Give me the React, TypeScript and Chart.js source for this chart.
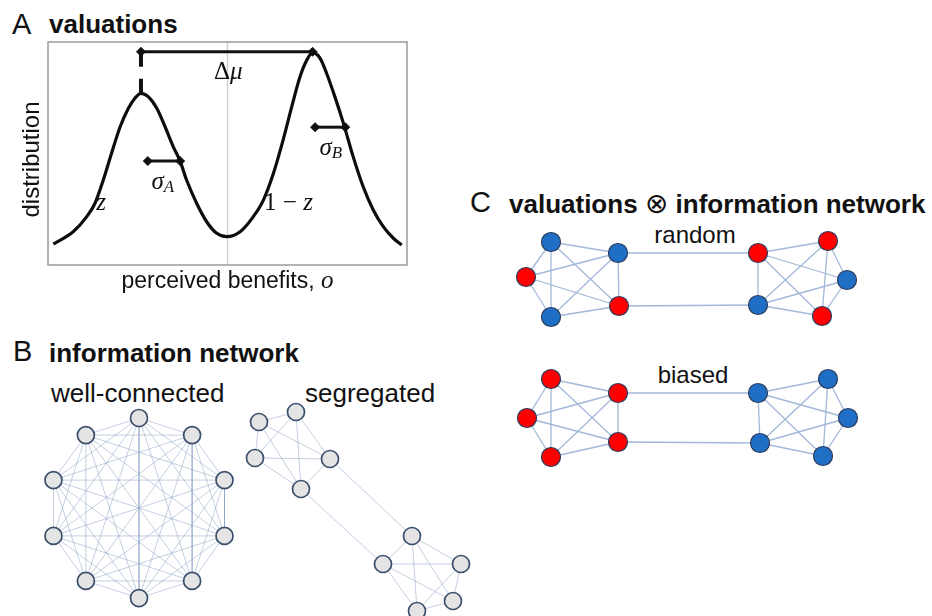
import React, { useEffect, useRef } from "react";
import { Chart, registerables } from "chart.js";

Chart.register(...registerables);

const SANS = '"Liberation Sans", Arial, Helvetica, sans-serif';
const SERIF = '"Liberation Serif", "Times New Roman", serif';

// ---------------- Panel A: valuations (bimodal distribution) ----------------
const benefitX = [-4.85, -4.3, -3.92, -3.69, -3.46, -3.23, -2.99, -2.76, -2.58, -2.41, -2.21, -1.97, -1.74, -1.51, -1.32, -1.14, -0.86, -0.58, -0.3, -0.02, 0.35, 0.72, 1.0, 1.28, 1.55, 1.79, 2.02, 2.21, 2.37, 2.58, 2.76, 2.99, 3.23, 3.5, 3.78, 4.06, 4.34, 4.62, 4.85];
const density = [0.094, 0.149, 0.217, 0.277, 0.381, 0.501, 0.62, 0.703, 0.748, 0.77, 0.755, 0.703, 0.62, 0.53, 0.466, 0.381, 0.277, 0.194, 0.142, 0.127, 0.149, 0.217, 0.291, 0.411, 0.561, 0.71, 0.844, 0.919, 0.952, 0.927, 0.86, 0.755, 0.635, 0.486, 0.351, 0.247, 0.172, 0.12, 0.09];
const peakMeans = [-2.41, 2.37]; // mu_A, mu_B
const deltaMuLevel = 0.956;
const dashBottom = 0.776;
const sigmaStart = [-2.22, 2.44];
const sigmaEnd = [-1.32, 3.28];
const sigmaLevel = [0.466, 0.618];

// ---------------- Panel B: information networks ----------------
const wellX = [0, 0.59, 0.95, 0.95, 0.59, 0, -0.59, -0.95, -0.95, -0.59];
const wellY = [1, 0.81, 0.31, -0.31, -0.81, -1, -0.81, -0.31, 0.31, 0.81];
const wellNodes = [0, 1, 2, 3, 4, 5, 6, 7, 8, 9];

const segX = [0.9, 4.6, 0.5, 8.0, 5.1, 16.2, 13.3, 21.1, 20.3, 16.7];
const segY = [19.8, 20.8, 16.2, 16.1, 13.1, 8.4, 5.6, 5.6, 1.9, 0.9];
const groupA = [0, 1, 2, 3, 4];
const groupB = [5, 6, 7, 8, 9];
const segBridges: [number, number][] = [[3, 5], [4, 6]];

// ---------------- Panel C: valuations x network ----------------
const randX = [5.1, 2.6, 5.1, 11.8, 11.9, 25.8, 32.8, 34.7, 25.8, 32.2];
const randY = [9.3, 5.8, 1.8, 8.2, 2.9, 8.2, 9.4, 5.5, 3.0, 1.9];
const randType = ["B", "A", "B", "B", "A", "A", "A", "B", "B", "A"];
const biasX = [5.1, 2.7, 5.1, 11.8, 11.8, 25.8, 32.8, 34.8, 26.0, 32.3];
const biasY = [9.3, 5.4, 1.5, 7.9, 3.0, 7.9, 9.3, 5.4, 2.9, 1.6];
const biasType = ["A", "A", "A", "A", "A", "B", "B", "B", "B", "B"];
const cBridges: [number, number][] = [[3, 5], [4, 8]];

const typeColor: Record<string, string> = { A: "#ff0000", B: "#1f6fc6" };

function allPairs(nodes: number[]): [number, number][] {
  const out: [number, number][] = [];
  for (let i = 0; i < nodes.length; i++)
    for (let j = i + 1; j < nodes.length; j++) out.push([nodes[i], nodes[j]]);
  return out;
}

type Run = { text: string; font: string; dy?: number };
function drawRuns(ctx: CanvasRenderingContext2D, runs: Run[], cx: number, cy: number) {
  const widths = runs.map((r) => {
    ctx.font = r.font;
    return ctx.measureText(r.text).width;
  });
  const total = widths.reduce((a, b) => a + b, 0);
  let x = cx - total / 2;
  runs.forEach((r, i) => {
    ctx.font = r.font;
    ctx.fillText(r.text, x, cy + (r.dy || 0));
    x += widths[i];
  });
}

const panelAPlugin = {
  id: "panelA",
  afterDatasetsDraw(chart: any) {
    const ctx: CanvasRenderingContext2D = chart.ctx;
    const { left, top, right, bottom } = chart.chartArea;
    const sx = chart.scales.x;
    const sy = chart.scales.y;
    ctx.save();
    ctx.strokeStyle = "#9a9a9a";
    ctx.lineWidth = 1.5;
    ctx.strokeRect(left, top, right - left, bottom - top);

    ctx.fillStyle = "#111";
    ctx.textBaseline = "middle";
    const it = `italic 25px ${SERIF}`;
    const rg = `25px ${SERIF}`;
    const sub = `italic 17px ${SERIF}`;
    const P = (x: number, y: number) => [sx.getPixelForValue(x), sy.getPixelForValue(y)];
    let [px, py] = P(0.02, 0.865);
    drawRuns(ctx, [{ text: "Δ", font: rg }, { text: "μ", font: it }], px, py);
    [px, py] = P(-1.8, 0.372);
    drawRuns(ctx, [{ text: "σ", font: it }, { text: "A", font: sub, dy: 5 }], px, py);
    [px, py] = P(2.88, 0.522);
    drawRuns(ctx, [{ text: "σ", font: it }, { text: "B", font: sub, dy: 5 }], px, py);
    [px, py] = P(-3.52, 0.278);
    drawRuns(ctx, [{ text: "z", font: it }], px, py);
    [px, py] = P(1.7, 0.278);
    drawRuns(ctx, [{ text: "1 − ", font: rg }, { text: "z", font: it }], px, py);

    // axis titles
    ctx.textBaseline = "alphabetic";
    const cx = (left + right) / 2;
    drawRuns(
      ctx,
      [
        { text: "perceived benefits, ", font: `23px ${SANS}` },
        { text: "o", font: `italic 25px ${SERIF}` },
      ],
      cx,
      bottom + 23
    );
    ctx.translate(left - 9, (top + bottom) / 2 + 6);
    ctx.rotate(-Math.PI / 2);
    ctx.textAlign = "center";
    ctx.font = `24px ${SANS}`;
    ctx.fillText("distribution", 0, 0);
    ctx.restore();
  },
};

function baseOptions(xMin: number, xMax: number, yMin: number, yMax: number, padding: any = 0) {
  return {
    animation: false as const,
    responsive: false,
    devicePixelRatio: 1,
    events: [] as any[],
    layout: { autoPadding: false, padding },
    plugins: { legend: { display: false }, tooltip: { enabled: false }, title: { display: false } },
    scales: {
      x: { type: "linear" as const, min: xMin, max: xMax, display: false },
      y: { type: "linear" as const, min: yMin, max: yMax, display: false },
    },
  };
}

function lineSet(data: { x: number; y: number }[], extra: any) {
  return {
    data,
    showLine: true,
    pointRadius: 0,
    borderColor: "#111",
    borderWidth: 3,
    clip: false,
    ...extra,
  };
}

function makePanelA() {
  const curve = benefitX.map((x, i) => ({ x, y: density[i] }));
  const diamond = { pointStyle: "rectRot", pointRadius: 4.5, pointBackgroundColor: "#111", pointBorderColor: "#111", pointBorderWidth: 1 };
  return {
    type: "scatter" as const,
    data: {
      datasets: [
        lineSet(curve, { cubicInterpolationMode: "monotone", order: 0, borderColor: "#0d0d0d", borderWidth: 3.2 }),
        lineSet([{ x: peakMeans[0], y: deltaMuLevel }, { x: peakMeans[1], y: deltaMuLevel }], { ...diamond, order: 1 }),
        lineSet([{ x: peakMeans[0], y: deltaMuLevel }, { x: peakMeans[0], y: dashBottom }], { borderDash: [15, 12], borderWidth: 4, order: 2 }),
        lineSet([{ x: sigmaStart[0], y: sigmaLevel[0] }, { x: sigmaEnd[0], y: sigmaLevel[0] }], { ...diamond, order: 1 }),
        lineSet([{ x: sigmaStart[1], y: sigmaLevel[1] }, { x: sigmaEnd[1], y: sigmaLevel[1] }], { ...diamond, order: 1 }),
        lineSet([{ x: 0, y: 0 }, { x: 0, y: 1 }], { borderColor: "#cfcfcf", borderWidth: 1.3, order: 9 }),
      ],
    },
    options: baseOptions(-5, 5, 0, 1, { left: 48, top: 2, right: 13, bottom: 35 }),
    plugins: [panelAPlugin],
  };
}

type NetSpec = {
  xs: number[];
  ys: number[];
  edges: [number, number][];
  colors: string[] | string;
  xRange: [number, number];
  yRange: [number, number];
  radius: number;
  nodeBorder: string;
  nodeBorderWidth: number;
  edgeColor: string;
  edgeWidth: number;
};

function makeNetwork(spec: NetSpec) {
  const pts = spec.xs.map((x, i) => ({ x, y: spec.ys[i] }));
  const edgeSets = spec.edges.map(([a, b]) => ({
    data: [{ ...pts[a] }, { ...pts[b] }],
    showLine: true,
    pointRadius: 0,
    borderColor: spec.edgeColor,
    borderWidth: spec.edgeWidth,
    order: 5,
    clip: false,
  }));
  return {
    type: "scatter" as const,
    data: {
      datasets: [
        {
          data: pts,
          showLine: false,
          pointRadius: spec.radius,
          pointBackgroundColor: spec.colors,
          pointBorderColor: spec.nodeBorder,
          pointBorderWidth: spec.nodeBorderWidth,
          order: 0,
          clip: false,
        },
        ...edgeSets,
      ],
    },
    options: baseOptions(spec.xRange[0], spec.xRange[1], spec.yRange[0], spec.yRange[1]),
  };
}

function ChartCanvas({ left, top, width, height, make }: { left: number; top: number; width: number; height: number; make: () => any }) {
  const ref = useRef<HTMLCanvasElement>(null);
  useEffect(() => {
    const chart = new Chart(ref.current!, make());
    return () => chart.destroy();
  }, []);
  return <canvas ref={ref} width={width} height={height} style={{ position: "absolute", left, top, width, height }} />;
}

function Label({ text, left, baseline, size, bold, center, children }: any) {
  const top = baseline - 0.8465 * size;
  return (
    <div
      style={{
        position: "absolute",
        left,
        top,
        fontFamily: SANS,
        fontSize: size,
        lineHeight: `${size}px`,
        fontWeight: bold ? 700 : 400,
        color: "#111",
        whiteSpace: "nowrap",
        transform: center ? "translateX(-50%)" : undefined,
      }}
    >
      {text}
      {children}
    </div>
  );
}

const bNode = { radius: 8.5, nodeBorder: "#3b4f6b", nodeBorderWidth: 1.7, edgeColor: "rgba(125,150,190,0.45)", edgeWidth: 1 };
const cNode = { radius: 9.5, nodeBorder: "#2a3c5e", nodeBorderWidth: 1.2, edgeColor: "#a3b8d8", edgeWidth: 1.3 };

export default function App() {
  return (
    <div style={{ position: "absolute", left: 0, top: 0, width: 932, height: 616, overflow: "hidden", background: "#fff" }}>
      <Label text="A" left={12} baseline={35} size={29} />
      <Label text="valuations" left={49} baseline={33} size={26} bold />
      <ChartCanvas left={0} top={40} width={420} height={260} make={makePanelA} />

      <Label text="B" left={13} baseline={362} size={29} />
      <Label text="information network" left={49} baseline={362} size={26} bold />
      <Label text="well-connected" left={51} baseline={402} size={26} />
      <Label text="segregated" left={305} baseline={402} size={26} />
      <ChartCanvas
        left={29}
        top={398}
        width={220}
        height={222}
        make={() =>
          makeNetwork({ xs: wellX, ys: wellY, edges: allPairs(wellNodes), colors: "#e4e4e4", xRange: [-1.222, 1.222], yRange: [-1.244, 1.222], ...bNode })
        }
      />
      <ChartCanvas
        left={235}
        top={395}
        width={245}
        height={225}
        make={() =>
          makeNetwork({
            xs: segX,
            ys: segY,
            edges: [...allPairs(groupA), ...allPairs(groupB), ...segBridges],
            colors: "#e4e4e4",
            xRange: [-1.5, 23.0],
            yRange: [0, 22.5],
            ...bNode,
          })
        }
      />

      <Label text="C" left={470} baseline={213} size={29} />
      <Label left={509} baseline={213} size={26} bold>
        valuations{" "}
        <span style={{ fontWeight: 400, fontFamily: '"DejaVu Sans", sans-serif', fontSize: 28 }}>⊗</span> information network
      </Label>
      <Label text="random" left={695} baseline={243} size={24} center />
      <Label text="biased" left={693} baseline={383} size={24} center />
      <ChartCanvas
        left={500}
        top={215}
        width={370}
        height={120}
        make={() =>
          makeNetwork({
            xs: randX,
            ys: randY,
            edges: [...allPairs(groupA), ...allPairs(groupB), ...cBridges],
            colors: randType.map((t) => typeColor[t]),
            xRange: [0, 37],
            yRange: [0, 12],
            ...cNode,
          })
        }
      />
      <ChartCanvas
        left={500}
        top={352}
        width={370}
        height={120}
        make={() =>
          makeNetwork({
            xs: biasX,
            ys: biasY,
            edges: [...allPairs(groupA), ...allPairs(groupB), ...cBridges],
            colors: biasType.map((t) => typeColor[t]),
            xRange: [0, 37],
            yRange: [0, 12],
            ...cNode,
          })
        }
      />
    </div>
  );
}
